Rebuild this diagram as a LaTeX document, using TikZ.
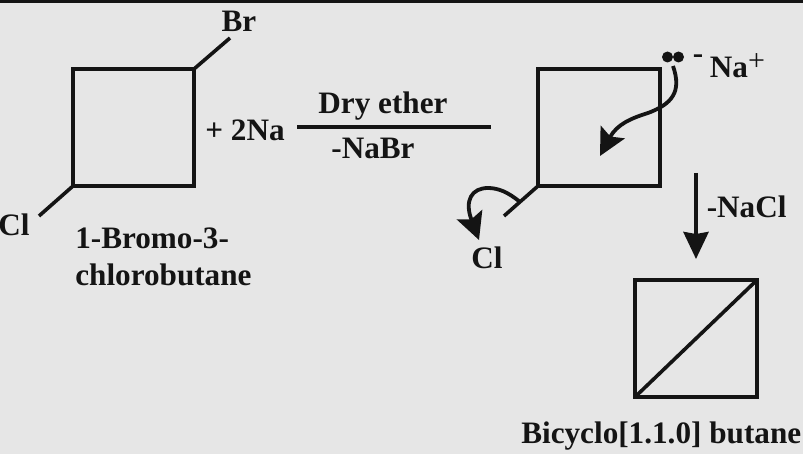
\documentclass[tikz,border=0pt]{standalone}
\usepackage{fontspec}
\setmainfont{Liberation Serif}
\usetikzlibrary{arrows.meta}
\definecolor{paper}{HTML}{E6E6E6}
\definecolor{ink}{HTML}{141414}
\begin{document}
\begin{tikzpicture}[
    x=1pt,y=-1pt,
    line width=3.6pt,
    color=ink,
    label node/.style={font=\bfseries\fontsize{31.2}{34}\selectfont,inner sep=0pt,text=ink},
    ring/.style={draw=ink,line join=miter},
    bond/.style={draw=ink},
    push arrow/.style={draw=ink,line width=3.8pt,-{Stealth[length=27pt,width=27pt,inset=5pt]}},
    step arrow/.style={draw=ink,line width=3.8pt,-{Stealth[length=27pt,width=25pt,inset=2pt]}}]

  \fill[paper] (0,0) rectangle (803,454);
  \fill[black!92] (0,0) rectangle (803,3);
  \useasboundingbox (0,0) rectangle (803,454);

  % starting material
  \coordinate (RingAa) at (73,69);
  \coordinate (RingAb) at (194,69);
  \coordinate (RingAc) at (194,186);
  \coordinate (RingAd) at (73,186);
  \draw[ring] (RingAa) -- (RingAb) -- (RingAc) -- (RingAd) -- cycle;
  \node[label node] (Br) at (239,21) {Br};
  \node[label node] (ClA) at (14,225) {Cl};
  \coordinate (BrEnd) at (230,38);
  \coordinate (ClEnd) at (39,216);
  \draw[bond] (RingAb) -- (BrEnd);
  \draw[bond] (RingAd) -- (ClEnd);
  \node[label node,anchor=west] (NameA) at (73.5,238) {1-Bromo-3-};
  \node[label node,anchor=west] (NameB) at (73.5,275) {chlorobutane};

  % reagents
  \node[label node] (Sodium) at (245,130) {+ 2Na};
  \coordinate (RxnL) at (297,127);
  \coordinate (RxnR) at (491,127);
  \draw[bond] (RxnL) -- (RxnR);
  \node[label node] (Ether) at (383,106) {Dry ether};
  \node[label node] (NaBr) at (373,148) {-NaBr};

  % carbanion
  \coordinate (RingBa) at (538,69);
  \coordinate (RingBb) at (660,69);
  \coordinate (RingBc) at (660,186);
  \coordinate (RingBd) at (538,186);
  \draw[ring] (RingBa) -- (RingBb) -- (RingBc) -- (RingBd) -- cycle;
  \coordinate (ClBond) at (504,216);
  \draw[bond] (RingBd) -- (ClBond);
  \node[label node] (ClB) at (487,258) {Cl};
  \fill (667.5,57) circle (5.5pt);
  \fill (678.5,57) circle (5.5pt);
  \node[label node] (Minus) at (698,59) {-};
  \node[label node,anchor=west] (NaPlus) at (708,67) {Na};
  \node[inner sep=0pt,font=\fontsize{30}{32}\selectfont,text=ink] (Plus) at (756.5,62) {+};
  \coordinate (PushA) at (673,66);
  \coordinate (PushB) at (600,156);
  \draw[push arrow] (PushA) .. controls (682,92) and (672,104) .. (648,113) .. controls (632,118) and (617,124) .. (PushB);
  \coordinate (PushC) at (520,202);
  \coordinate (PushD) at (479,240);
  \draw[push arrow] (PushC) .. controls (508,192) and (498,188) .. (488,188) .. controls (472,188) and (464,200) .. (PushD);

  % ring closure
  \coordinate (StepTop) at (696,173);
  \coordinate (StepEnd) at (696,259);
  \draw[step arrow] (StepTop) -- (StepEnd);
  \node[label node,anchor=west] (NaCl) at (705,207) {-NaCl};

  % product
  \coordinate (RingCa) at (635,280);
  \coordinate (RingCb) at (757,280);
  \coordinate (RingCc) at (757,397);
  \coordinate (RingCd) at (635,397);
  \draw[ring] (RingCa) -- (RingCb) -- (RingCc) -- (RingCd) -- cycle;
  \draw[bond] (RingCd) -- (RingCb);
  \node[label node,anchor=east] (NameC) at (803,436) {Bicyclo[1.1.0] butane};
\end{tikzpicture}
\end{document}
